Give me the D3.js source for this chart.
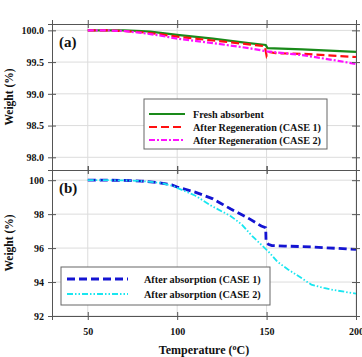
<!DOCTYPE html>
<html>
<head>
<meta charset="utf-8">
<script src="https://cdn.jsdelivr.net/npm/d3@7"></script>
<style>
  body { margin: 0; background: #fff; }
  text { font-family: "Liberation Serif", "Times New Roman", serif; font-weight: bold; }
</style>
</head>
<body>
<div id="chart"></div>
<script>
// DATA
let freshT   = [50, 60, 70, 80, 85, 100, 120, 140, 149.5, 150.5, 170, 200];
let freshW   = [100, 100, 100, 99.99, 99.98, 99.93, 99.87, 99.80, 99.77, 99.72, 99.70, 99.66];
let regen1T  = [50, 60, 70, 80, 90, 100, 120, 140, 149, 150, 151, 155, 170, 200];
let regen1W  = [100, 100, 99.99, 99.97, 99.94, 99.90, 99.84, 99.78, 99.75, 99.60, 99.66, 99.64, 99.63, 99.58];
let regen2T  = [50, 60, 70, 80, 90, 100, 120, 140, 150, 170, 190, 200];
let regen2W  = [100, 100, 99.99, 99.96, 99.92, 99.87, 99.80, 99.72, 99.67, 99.61, 99.52, 99.47];

let abs1T = [50, 60, 70, 80, 90, 97, 100, 110, 120, 125, 130, 140, 147, 149.5, 149.7, 151, 153, 160, 175, 190, 200];
let abs1W = [100, 100, 99.99, 99.95, 99.85, 99.72, 99.6, 99.3, 98.9, 98.6, 98.3, 97.75, 97.3, 97.2, 96.4, 96.22, 96.15, 96.12, 96.07, 95.98, 95.92];
let abs2T = [50, 60, 70, 80, 90, 97, 100, 110, 119, 130, 136, 142, 151, 156, 162, 170, 175, 182, 187, 194, 200];
let abs2W = [100, 100, 99.99, 99.95, 99.85, 99.68, 99.55, 99.1, 98.5, 97.88, 97.4, 96.7, 95.8, 95.2, 94.74, 94.2, 93.85, 93.65, 93.54, 93.42, 93.32];

let xTicks = [50, 100, 150, 200];
let topTicks = [98.0, 98.5, 99.0, 99.5, 100.0];
let botTicks = [92, 94, 96, 98, 100];

let topSeries = [
  { name: 'Fresh absorbent', t: freshT, w: freshW, color: '#1a8a1a', dash: null, width: 2.2 },
  { name: 'After Regeneration (CASE 1)', t: regen1T, w: regen1W, color: '#ff1010', dash: '8,4', width: 2.2 },
  { name: 'After Regeneration (CASE 2)', t: regen2T, w: regen2W, color: '#ff10ff', dash: '6,2,2,2', width: 2.2 }
];
let botSeries = [
  { name: 'After absorption (CASE 1)', t: abs1T, w: abs1W, color: '#1414d2', dash: '8,4', width: 2.8 },
  { name: 'After absorption (CASE 2)', t: abs2T, w: abs2W, color: '#19e6f0', dash: '6,2,1.5,2,1.5,2', width: 1.8 }
];

// DIMENSIONS
let width = 362, height = 357;
let left = 52, right = 356;

let svg = d3.select('#chart').append('svg')
  .attr('width', width)
  .attr('height', height);

let x = d3.scaleLinear().domain([30, 200]).range([left, right]);

function drawPanel(opts) {
  let y = d3.scaleLinear().domain(opts.domain).range([opts.bottom, opts.top]);
  let g = svg.append('g');

  // grid
  g.selectAll('.vgrid').data(xTicks).enter().append('line')
    .attr('x1', d => x(d)).attr('x2', d => x(d))
    .attr('y1', opts.top).attr('y2', opts.bottom)
    .attr('stroke', '#dcdcdc').attr('stroke-width', 1);
  g.selectAll('.hgrid').data(opts.ticks).enter().append('line')
    .attr('x1', left).attr('x2', right)
    .attr('y1', d => y(d)).attr('y2', d => y(d))
    .attr('stroke', '#dcdcdc').attr('stroke-width', 1);

  // lines
  let line = d3.line().x(d => x(d[0])).y(d => y(d[1]));
  opts.series.forEach(s => {
    g.append('path')
      .datum(d3.zip(s.t, s.w))
      .attr('fill', 'none')
      .attr('stroke', s.color)
      .attr('stroke-width', s.width)
      .attr('stroke-dasharray', s.dash)
      .attr('d', line);
  });

  // axes with ticks crossing the frame
  let styleAxis = a => {
    a.select('.domain').attr('stroke', '#555');
    a.selectAll('.tick line').attr('stroke', '#555');
    a.selectAll('text').style('font-size', '10px').attr('fill', '#111');
  };
  let tf = opts.fmt;
  g.append('g').attr('transform', `translate(${left},0)`)
    .call(d3.axisLeft(y).tickValues(opts.ticks).tickSize(4).tickPadding(4).tickFormat(tf)).call(styleAxis);
  g.append('g').attr('transform', `translate(${left},0)`)
    .call(d3.axisLeft(y).tickValues(opts.ticks).tickSize(-4).tickFormat('')).call(styleAxis);
  g.append('g').attr('transform', `translate(${right},0)`)
    .call(d3.axisRight(y).tickValues(opts.ticks).tickSize(4).tickFormat('')).call(styleAxis);
  g.append('g').attr('transform', `translate(${right},0)`)
    .call(d3.axisRight(y).tickValues(opts.ticks).tickSize(-4).tickFormat('')).call(styleAxis);
  g.append('g').attr('transform', `translate(0,${opts.top})`)
    .call(d3.axisTop(x).tickValues(xTicks).tickSize(4).tickFormat('')).call(styleAxis);
  g.append('g').attr('transform', `translate(0,${opts.top})`)
    .call(d3.axisTop(x).tickValues(xTicks).tickSize(-4).tickFormat('')).call(styleAxis);
  g.append('g').attr('transform', `translate(0,${opts.bottom})`)
    .call(d3.axisBottom(x).tickValues(xTicks).tickSize(-4).tickFormat('')).call(styleAxis);
  g.append('g').attr('transform', `translate(0,${opts.bottom})`)
    .call(d3.axisBottom(x).tickValues(xTicks).tickSize(4).tickPadding(8).tickFormat(opts.showX ? d3.format('d') : '')).call(styleAxis);

  // panel label
  g.append('text').attr('x', 59).attr('y', opts.top + 23)
    .style('font-size', '15px').attr('fill', '#111').text(opts.label);

  // y title
  g.append('text')
    .attr('transform', `translate(13,${(opts.top + opts.bottom) / 2}) rotate(-90)`)
    .attr('text-anchor', 'middle')
    .style('font-size', '11.5px').attr('fill', '#111')
    .text('Weight (%)');

  // legend
  let L = opts.legend;
  g.append('rect').attr('x', L.x).attr('y', L.y).attr('width', L.w).attr('height', L.h)
    .attr('fill', '#fff').attr('stroke', '#666').attr('stroke-width', 1);
  opts.series.forEach((s, i) => {
    let yy = L.y + L.first + i * L.step;
    g.append('line').attr('x1', L.x + L.l1).attr('x2', L.x + L.l2).attr('y1', yy).attr('y2', yy)
      .attr('stroke', s.color).attr('stroke-width', s.width).attr('stroke-dasharray', s.dash);
    g.append('text').attr('x', L.x + L.tx).attr('y', yy + 3.5)
      .style('font-size', '10.2px').attr('fill', '#111').text(s.name);
  });
}

drawPanel({
  top: 24, bottom: 170, domain: [97.8, 100.1], ticks: topTicks, fmt: d3.format('.1f'),
  series: topSeries, label: '(a)', showX: false,
  legend: { x: 144, y: 99, w: 183, h: 50, l1: 5, l2: 41, tx: 49, first: 15, step: 13 }
});
drawPanel({
  top: 170, bottom: 316, domain: [92, 100.6], ticks: botTicks, fmt: d3.format('d'),
  series: botSeries, label: '(b)', showX: true,
  legend: { x: 61, y: 267, w: 209, h: 38, l1: 6, l2: 67, tx: 83, first: 12, step: 15 }
});

// x title (sits at the bottom edge, as in the reference)
let xt = svg.append('text').attr('x', 204).attr('y', 354)
  .attr('text-anchor', 'middle').style('font-size', '12px').attr('fill', '#111');
xt.append('tspan').text('Temperature (');
xt.append('tspan').attr('baseline-shift', 'super').style('font-size', '8px').text('o');
xt.append('tspan').text('C)');
</script>
</body>
</html>
